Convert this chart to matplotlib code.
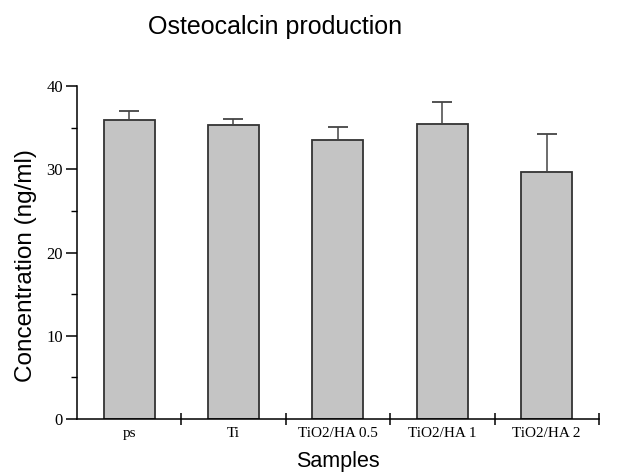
import numpy as np
import matplotlib
matplotlib.use("Agg")
import matplotlib.pyplot as plt
from matplotlib.ticker import MultipleLocator, FixedLocator

# data
samples = ['ps', 'Ti', 'TiO2/HA 0.5', 'TiO2/HA 1', 'TiO2/HA 2']
conc = [35.9, 35.3, 33.5, 35.5, 29.7]
err = [1.1, 0.7, 1.6, 2.6, 4.5]

fig = plt.figure(figsize=(6.2, 4.73), dpi=100)
ax = fig.add_axes([0.124, 0.114, 0.842, 0.704])

x = np.arange(len(samples)) + 0.5
ax.bar(x, conc, width=0.49, color='#c4c4c4', edgecolor='#333333', linewidth=1.3,
       yerr=[np.zeros(len(err)), err], error_kw=dict(ecolor='#444444', elinewidth=1.1,
       capsize=7, capthick=1.3), zorder=2)

ax.set_xlim(0, 5)
ax.set_ylim(0, 40)
ax.spines['top'].set_visible(False)
ax.spines['right'].set_visible(False)
ax.spines['left'].set_linewidth(1.1)
ax.spines['bottom'].set_linewidth(1.1)

ax.yaxis.set_major_locator(MultipleLocator(10))
ax.yaxis.set_minor_locator(MultipleLocator(5))
ax.tick_params(axis='y', which='major', direction='out', length=8, width=1.1,
               labelsize=12, pad=2)
ax.tick_params(axis='y', which='minor', direction='out', length=4, width=1.0)
for lab in ax.get_yticklabels():
    lab.set_family(['Liberation Serif', 'DejaVu Serif'])

# category separators on x axis, labels centred
ax.xaxis.set_major_locator(FixedLocator([1, 2, 3, 4, 5]))
ax.xaxis.set_major_formatter(plt.NullFormatter())
ax.tick_params(axis='x', which='major', direction='inout', length=8, width=1.1)
for xi, s in zip(x, samples):
    ax.text(xi, -1.0, s, ha='center', va='top', fontsize=11,
            family=['Liberation Serif', 'DejaVu Serif'],
            transform=ax.transData)

ax.set_ylabel('Concentration (ng/ml)', fontsize=17.5, family='Liberation Sans', va='center')
ax.yaxis.set_label_coords(-0.098, 0.462)
ax.set_xlabel('Samples', fontsize=15.5, family='Liberation Sans', va='center')
ax.xaxis.set_label_coords(0.5, -0.128)
fig.text(0.444, 0.943, 'Osteocalcin production', fontsize=18, family='Liberation Sans',
         ha='center', va='center')

fig.savefig('out.png', dpi=100)
